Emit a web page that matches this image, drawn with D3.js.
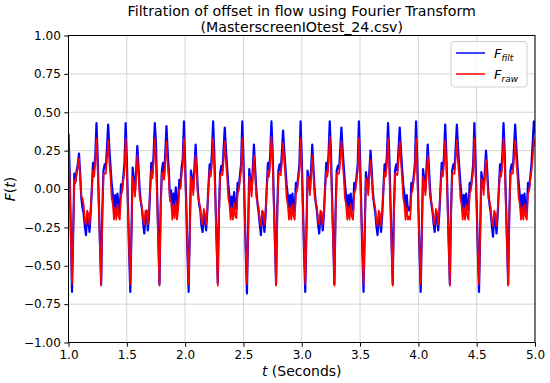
<!DOCTYPE html>
<html>
<head>
<meta charset="utf-8">
<script src="https://d3js.org/d3.v7.min.js"></script>
<style>
  body { margin: 0; background: #fff; }
  svg text { font-family: "DejaVu Sans", sans-serif; fill: #000; }
</style>
</head>
<body>
<svg id="chart" width="550" height="383"></svg>
<script>
// sample times in seconds, one row per 0.25 s cycle (dip to dip)
const tSec = [
  1.00,1.01,1.02,
  1.03,1.04,1.05,1.06,1.07,1.08,1.09,1.10,1.11,1.12,1.13,1.14,1.15,1.16,1.17,1.18,1.19,1.20,1.21,1.22,1.23,1.24,1.25,1.26,1.27,
  1.28,1.29,1.30,1.31,1.32,1.33,1.34,1.35,1.36,1.37,1.38,1.39,1.40,1.41,1.42,1.43,1.44,1.45,1.46,1.47,1.48,1.49,1.50,1.51,1.52,
  1.53,1.54,1.55,1.56,1.57,1.58,1.59,1.60,1.61,1.62,1.63,1.64,1.65,1.66,1.67,1.68,1.69,1.70,1.71,1.72,1.73,1.74,1.75,1.76,1.77,
  1.78,1.79,1.80,1.81,1.82,1.83,1.84,1.85,1.86,1.87,1.88,1.89,1.90,1.91,1.92,1.93,1.94,1.95,1.96,1.97,1.98,1.99,2.00,2.01,2.02,
  2.03,2.04,2.05,2.06,2.07,2.08,2.09,2.10,2.11,2.12,2.13,2.14,2.15,2.16,2.17,2.18,2.19,2.20,2.21,2.22,2.23,2.24,2.25,2.26,2.27,
  2.28,2.29,2.30,2.31,2.32,2.33,2.34,2.35,2.36,2.37,2.38,2.39,2.40,2.41,2.42,2.43,2.44,2.45,2.46,2.47,2.48,2.49,2.50,2.51,2.52,
  2.53,2.54,2.55,2.56,2.57,2.58,2.59,2.60,2.61,2.62,2.63,2.64,2.65,2.66,2.67,2.68,2.69,2.70,2.71,2.72,2.73,2.74,2.75,2.76,2.77,
  2.78,2.79,2.80,2.81,2.82,2.83,2.84,2.85,2.86,2.87,2.88,2.89,2.90,2.91,2.92,2.93,2.94,2.95,2.96,2.97,2.98,2.99,3.00,3.01,3.02,
  3.03,3.04,3.05,3.06,3.07,3.08,3.09,3.10,3.11,3.12,3.13,3.14,3.15,3.16,3.17,3.18,3.19,3.20,3.21,3.22,3.23,3.24,3.25,3.26,3.27,
  3.28,3.29,3.30,3.31,3.32,3.33,3.34,3.35,3.36,3.37,3.38,3.39,3.40,3.41,3.42,3.43,3.44,3.45,3.46,3.47,3.48,3.49,3.50,3.51,3.52,
  3.53,3.54,3.55,3.56,3.57,3.58,3.59,3.60,3.61,3.62,3.63,3.64,3.65,3.66,3.67,3.68,3.69,3.70,3.71,3.72,3.73,3.74,3.75,3.76,3.77,
  3.78,3.79,3.80,3.81,3.82,3.83,3.84,3.85,3.86,3.87,3.88,3.89,3.90,3.91,3.92,3.93,3.94,3.95,3.96,3.97,3.98,3.99,4.00,4.01,
  4.02,4.03,4.04,4.05,4.06,4.07,4.08,4.09,4.10,4.11,4.12,4.13,4.14,4.15,4.16,4.17,4.18,4.19,4.20,4.21,4.22,4.23,4.24,4.25,4.26,
  4.27,4.28,4.29,4.30,4.31,4.32,4.33,4.34,4.35,4.36,4.37,4.38,4.39,4.40,4.41,4.42,4.43,4.44,4.45,4.46,4.47,4.48,4.49,4.50,4.51,
  4.52,4.53,4.54,4.55,4.56,4.57,4.58,4.59,4.60,4.61,4.62,4.63,4.64,4.65,4.66,4.67,4.68,4.69,4.70,4.71,4.72,4.73,4.74,4.75,4.76,
  4.77,4.78,4.79,4.80,4.81,4.82,4.83,4.84,4.85,4.86,4.87,4.88,4.89,4.90,4.91,4.92,4.93,4.94,4.95,4.96,4.97,4.98,4.99,5.00
];

// filtered flow F_filt
const fFilt = [
  0.36,0.12,-0.28,
  -0.67,-0.30,0.10,0.05,0.12,0.16,0.23,0.10,-0.06,-0.12,-0.16,-0.24,-0.30,-0.18,-0.20,-0.28,-0.16,0.00,0.17,0.13,0.22,0.43,0.21,-0.08,-0.36,
  -0.62,-0.14,0.12,0.16,0.14,0.27,0.42,0.27,0.15,0.04,-0.04,-0.13,-0.04,-0.14,-0.03,-0.11,-0.15,0.03,0.00,0.08,0.17,0.43,0.20,-0.10,-0.42,
  -0.67,-0.28,0.14,0.06,-0.02,0.12,0.28,0.15,0.00,-0.08,-0.13,-0.22,-0.29,-0.18,-0.14,-0.27,-0.19,0.00,0.17,0.10,0.23,0.43,0.30,-0.02,-0.32,
  -0.62,-0.12,0.11,0.17,0.08,0.24,0.41,0.25,0.12,-0.05,-0.01,-0.14,-0.03,-0.12,0.01,-0.14,-0.08,0.06,0.02,0.14,0.20,0.44,0.18,-0.10,-0.42,
  -0.67,-0.27,0.12,0.07,0.00,0.14,0.29,0.14,-0.02,-0.10,-0.14,-0.24,-0.28,-0.16,-0.20,-0.27,-0.15,0.02,0.16,0.11,0.24,0.44,0.24,-0.06,-0.35,
  -0.61,-0.15,0.10,0.15,0.12,0.26,0.40,0.26,0.14,0.03,-0.05,-0.12,-0.05,-0.14,-0.02,-0.12,-0.13,0.04,0.01,0.09,0.16,0.44,0.21,-0.10,-0.42,
  -0.68,-0.28,0.13,0.05,-0.01,0.13,0.29,0.14,0.00,-0.09,-0.15,-0.23,-0.30,-0.17,-0.18,-0.28,-0.17,0.01,0.17,0.11,0.23,0.44,0.25,-0.05,-0.34,
  -0.62,-0.14,0.12,0.16,0.12,0.24,0.38,0.25,0.14,0.03,-0.04,-0.12,-0.04,-0.13,-0.03,-0.12,-0.14,0.04,0.01,0.08,0.16,0.44,0.20,-0.10,-0.42,
  -0.67,-0.28,0.12,0.06,-0.01,0.13,0.29,0.14,0.00,-0.09,-0.14,-0.23,-0.29,-0.17,-0.17,-0.27,-0.17,0.01,0.17,0.11,0.23,0.44,0.25,-0.05,-0.34,
  -0.62,-0.14,0.12,0.15,0.13,0.26,0.40,0.26,0.15,0.04,-0.04,-0.13,-0.04,-0.14,-0.03,-0.12,-0.14,0.04,0.01,0.08,0.16,0.44,0.20,-0.10,-0.42,
  -0.67,-0.28,0.11,0.05,0.00,0.12,0.25,0.12,-0.02,-0.10,-0.15,-0.24,-0.30,-0.18,-0.19,-0.28,-0.17,0.00,0.16,0.11,0.22,0.43,0.24,-0.06,-0.35,
  -0.62,-0.14,0.12,0.16,0.12,0.26,0.40,0.26,0.14,0.03,-0.04,-0.13,-0.04,-0.14,-0.12,-0.14,0.04,0.01,0.08,0.16,0.44,0.20,-0.10,-0.42,
  -0.67,-0.27,0.13,0.06,-0.01,0.14,0.29,0.15,0.00,-0.09,-0.14,-0.22,-0.28,-0.16,-0.18,-0.27,-0.16,0.01,0.17,0.11,0.22,0.42,0.23,-0.06,-0.35,
  -0.62,-0.14,0.12,0.16,0.13,0.27,0.42,0.27,0.15,0.04,-0.04,-0.13,-0.04,-0.14,-0.03,-0.12,-0.14,0.04,0.01,0.08,0.16,0.43,0.20,-0.10,-0.42,
  -0.67,-0.28,0.11,0.05,0.00,0.12,0.25,0.12,-0.02,-0.10,-0.15,-0.24,-0.31,-0.18,-0.19,-0.29,-0.17,0.00,0.16,0.11,0.22,0.43,0.24,-0.06,-0.35,
  -0.62,-0.14,0.12,0.16,0.13,0.27,0.42,0.27,0.15,0.04,-0.04,-0.13,-0.04,-0.14,-0.03,-0.12,-0.14,0.04,0.01,0.08,0.16,0.30,0.44,0.36
];

// raw flow F_raw
const fRaw = [
  0.30,0.06,-0.30,
  -0.62,-0.30,0.06,0.04,0.10,0.14,0.20,0.07,-0.05,-0.06,-0.10,-0.20,-0.23,-0.14,-0.16,-0.23,-0.13,-0.01,0.12,0.08,0.18,0.33,0.14,-0.12,-0.38,
  -0.63,-0.18,0.10,0.10,0.10,0.20,0.32,0.18,0.08,-0.06,-0.10,-0.20,-0.12,-0.20,-0.10,-0.18,-0.20,-0.04,-0.02,0.06,0.12,0.33,0.12,-0.14,-0.40,
  -0.62,-0.30,0.08,0.04,-0.05,0.08,0.22,0.10,-0.05,-0.08,-0.12,-0.20,-0.23,-0.14,-0.15,-0.23,-0.14,-0.01,0.12,0.07,0.18,0.33,0.18,-0.08,-0.36,
  -0.63,-0.17,0.10,0.11,0.06,0.18,0.31,0.17,0.06,-0.08,-0.08,-0.20,-0.10,-0.19,-0.08,-0.20,-0.14,0.00,0.00,0.10,0.15,0.33,0.12,-0.14,-0.40,
  -0.62,-0.29,0.08,0.05,-0.04,0.09,0.22,0.10,-0.05,-0.08,-0.12,-0.21,-0.23,-0.13,-0.16,-0.23,-0.13,0.00,0.12,0.08,0.18,0.33,0.16,-0.10,-0.37,
  -0.63,-0.18,0.09,0.10,0.09,0.19,0.31,0.18,0.08,-0.06,-0.10,-0.20,-0.12,-0.20,-0.09,-0.18,-0.19,-0.03,-0.01,0.06,0.12,0.33,0.13,-0.14,-0.40,
  -0.62,-0.29,0.08,0.04,-0.05,0.08,0.22,0.10,-0.05,-0.08,-0.12,-0.21,-0.24,-0.14,-0.15,-0.23,-0.14,0.00,0.12,0.08,0.18,0.34,0.17,-0.09,-0.37,
  -0.63,-0.18,0.10,0.10,0.09,0.18,0.30,0.18,0.08,-0.06,-0.10,-0.20,-0.12,-0.20,-0.10,-0.18,-0.20,-0.03,-0.01,0.06,0.12,0.33,0.12,-0.14,-0.40,
  -0.62,-0.29,0.08,0.05,-0.04,0.08,0.22,0.10,-0.05,-0.08,-0.12,-0.21,-0.23,-0.14,-0.15,-0.23,-0.14,0.00,0.12,0.08,0.18,0.34,0.17,-0.09,-0.37,
  -0.63,-0.18,0.10,0.10,0.10,0.19,0.31,0.18,0.08,-0.06,-0.10,-0.20,-0.12,-0.20,-0.10,-0.18,-0.20,-0.03,-0.01,0.06,0.12,0.33,0.12,-0.14,-0.40,
  -0.62,-0.30,0.07,0.04,-0.04,0.08,0.19,0.08,-0.06,-0.08,-0.12,-0.21,-0.24,-0.14,-0.16,-0.24,-0.14,-0.01,0.11,0.08,0.17,0.33,0.16,-0.10,-0.37,
  -0.63,-0.18,0.10,0.10,0.09,0.19,0.31,0.18,0.08,-0.06,-0.10,-0.20,-0.12,-0.20,-0.18,-0.20,-0.03,-0.01,0.06,0.12,0.33,0.12,-0.14,-0.40,
  -0.62,-0.29,0.08,0.05,-0.04,0.09,0.22,0.10,-0.05,-0.08,-0.12,-0.20,-0.23,-0.13,-0.15,-0.23,-0.13,0.00,0.12,0.08,0.17,0.32,0.16,-0.10,-0.37,
  -0.63,-0.18,0.10,0.10,0.10,0.20,0.32,0.18,0.08,-0.06,-0.10,-0.20,-0.12,-0.20,-0.10,-0.18,-0.20,-0.03,-0.01,0.06,0.12,0.33,0.12,-0.14,-0.40,
  -0.62,-0.30,0.07,0.04,-0.04,0.08,0.19,0.08,-0.06,-0.08,-0.12,-0.21,-0.24,-0.14,-0.16,-0.24,-0.14,-0.01,0.11,0.08,0.17,0.33,0.16,-0.10,-0.37,
  -0.63,-0.18,0.10,0.10,0.10,0.20,0.32,0.18,0.08,-0.06,-0.10,-0.20,-0.12,-0.20,-0.10,-0.18,-0.20,-0.03,-0.01,0.06,0.12,0.20,0.33,0.28
];

const xTicks = [1.0, 1.5, 2.0, 2.5, 3.0, 3.5, 4.0, 4.5, 5.0];
const yTicks = [-1.0, -0.75, -0.5, -0.25, 0.0, 0.25, 0.5, 0.75, 1.0];

const svg = d3.select("#chart");
const pLeft = 68.5, pRight = 535, pTop = 35.5, pBottom = 342.5;

const x = d3.scaleLinear().domain([1, 5]).range([pLeft, pRight]);
const y = d3.scaleLinear().domain([-1, 1]).range([pBottom, pTop]);

// grid
svg.append("g").selectAll("line").data(xTicks).enter().append("line")
  .attr("x1", d => x(d)).attr("x2", d => x(d))
  .attr("y1", pTop).attr("y2", pBottom)
  .attr("stroke", "#d4d4d4").attr("stroke-width", 1);
svg.append("g").selectAll("line").data(yTicks).enter().append("line")
  .attr("x1", pLeft).attr("x2", pRight)
  .attr("y1", d => y(d)).attr("y2", d => y(d))
  .attr("stroke", "#d4d4d4").attr("stroke-width", 1);

svg.append("clipPath").attr("id", "plotClip")
  .append("rect").attr("x", pLeft).attr("y", pTop)
  .attr("width", pRight - pLeft).attr("height", pBottom - pTop);

const n = Math.min(tSec.length, fFilt.length, fRaw.length);
const filtPts = [], rawPts = [];
for (let i = 0; i < n; i++) {
  filtPts.push([tSec[i], fFilt[i]]);
  rawPts.push([tSec[i], fRaw[i]]);
}

const line = d3.line().x(d => x(d[0])).y(d => y(d[1]));

const plot = svg.append("g").attr("clip-path", "url(#plotClip)");
plot.append("path").datum(filtPts)
  .attr("d", line).attr("fill", "none")
  .attr("stroke", "#0000ff").attr("stroke-width", 2.2)
  .attr("stroke-linejoin", "round");
plot.append("path").datum(rawPts)
  .attr("d", line).attr("fill", "none")
  .attr("stroke", "#ff0000").attr("stroke-width", 1.7)
  .attr("stroke-linejoin", "round");

// axes
const xAxis = svg.append("g")
  .attr("transform", "translate(0," + pBottom + ")")
  .call(d3.axisBottom(x).tickValues(xTicks).tickFormat(d3.format(".1f"))
    .tickSize(4.2).tickPadding(3.5));
const yAxis = svg.append("g")
  .attr("transform", "translate(" + pLeft + ",0)")
  .call(d3.axisLeft(y).tickValues(yTicks).tickFormat(d3.format(".2f"))
    .tickSize(4.2).tickPadding(3.5));
[xAxis, yAxis].forEach(a => {
  a.select(".domain").remove();
  a.selectAll(".tick line").attr("stroke", "#000").attr("stroke-width", 1);
  a.selectAll(".tick text").attr("font-size", 12).attr("font-family", "DejaVu Sans").attr("fill", "#000");
});

// frame
svg.append("rect")
  .attr("x", pLeft).attr("y", pTop)
  .attr("width", pRight - pLeft).attr("height", pBottom - pTop)
  .attr("fill", "none").attr("stroke", "#000").attr("stroke-width", 1);

// title (two lines)
const titleLines = ["Filtration of offset in flow using Fourier Transform", "(MasterscreenIOtest_24.csv)"];
svg.append("g").selectAll("text").data(titleLines).enter().append("text")
  .attr("x", (pLeft + pRight) / 2)
  .attr("y", (d, i) => 16 + i * 15.5)
  .attr("text-anchor", "middle").attr("font-size", 14.2)
  .text(d => d);

// axis labels
const xl = svg.append("text").attr("x", (pLeft + pRight) / 2).attr("y", 376)
  .attr("text-anchor", "middle").attr("font-size", 14);
xl.append("tspan").attr("font-style", "italic").text("t");
xl.append("tspan").text(" (Seconds)");

const yl = svg.append("text")
  .attr("transform", "translate(15," + ((pTop + pBottom) / 2) + ") rotate(-90)")
  .attr("text-anchor", "middle").attr("font-size", 14);
yl.append("tspan").attr("font-style", "italic").text("F");
yl.append("tspan").text("(");
yl.append("tspan").attr("font-style", "italic").text("t");
yl.append("tspan").text(")");

// legend
const lg = svg.append("g");
lg.append("rect").attr("x", 451).attr("y", 41.5).attr("width", 76).attr("height", 45.5)
  .attr("rx", 3).attr("fill", "#fff").attr("fill-opacity", 0.8)
  .attr("stroke", "#d0d0d0").attr("stroke-width", 1);
const legendItems = [
  {sub: "filt", color: "#0000ff", yy: 53},
  {sub: "raw", color: "#ff0000", yy: 74}
];
legendItems.forEach(it => {
  lg.append("line").attr("x1", 456).attr("x2", 485).attr("y1", it.yy).attr("y2", it.yy)
    .attr("stroke", it.color).attr("stroke-width", 1.5);
  const tx = lg.append("text").attr("x", 494).attr("y", it.yy + 4.5).attr("font-size", 13);
  tx.append("tspan").attr("font-style", "italic").text("F");
  tx.append("tspan").attr("font-style", "italic").attr("font-size", 9)
    .attr("dy", 3).text(it.sub);
});
</script>
</body>
</html>
